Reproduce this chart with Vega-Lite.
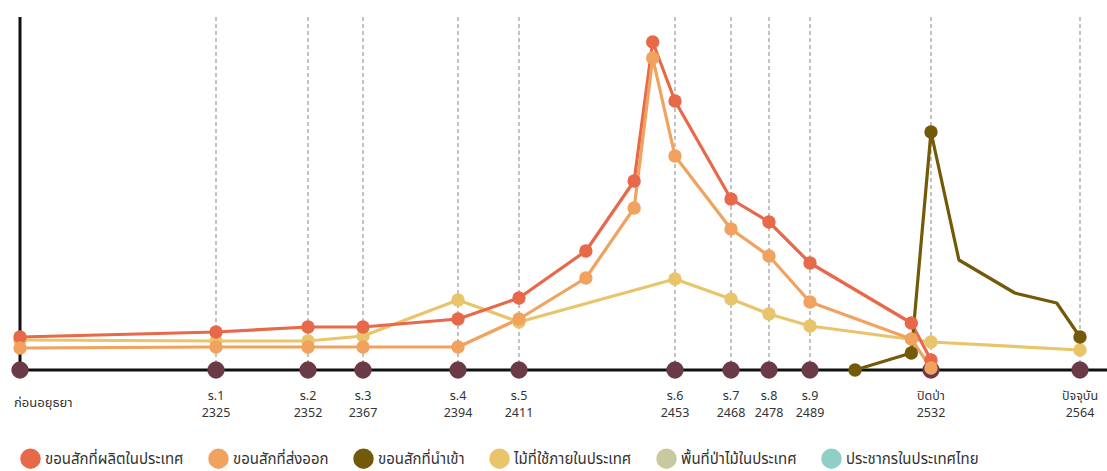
{
  "$schema": "https://vega.github.io/schema/vega-lite/v6.json",
  "autosize": "none",
  "width": 1087,
  "height": 353,
  "padding": {"left": 20, "top": 17, "right": 0, "bottom": 101},
  "background": "white",
  "config": {"view": {"stroke": null}, "font": "'Noto Sans Thai', 'Noto Sans', sans-serif"},
  "datasets": {
    "timeline": [
      {"year": 1800, "reign": "ก่อนอยุธยา", "yr": ""},
      {"year": 2325, "reign": "ร.1", "yr": "2325"},
      {"year": 2352, "reign": "ร.2", "yr": "2352"},
      {"year": 2367, "reign": "ร.3", "yr": "2367"},
      {"year": 2394, "reign": "ร.4", "yr": "2394"},
      {"year": 2411, "reign": "ร.5", "yr": "2411"},
      {"year": 2453, "reign": "ร.6", "yr": "2453"},
      {"year": 2468, "reign": "ร.7", "yr": "2468"},
      {"year": 2478, "reign": "ร.8", "yr": "2478"},
      {"year": 2489, "reign": "ร.9", "yr": "2489"},
      {"year": 2532, "reign": "ปิดป่า", "yr": "2532"},
      {"year": 2564, "reign": "ปัจจุบัน", "yr": "2564"}
    ],
    "series": [
      {"series": "ไม้ที่ใช้ภายในประเทศ", "year": 1800, "value": 30},
      {"series": "ไม้ที่ใช้ภายในประเทศ", "year": 2325, "value": 29},
      {"series": "ไม้ที่ใช้ภายในประเทศ", "year": 2352, "value": 29},
      {"series": "ไม้ที่ใช้ภายในประเทศ", "year": 2367, "value": 34},
      {"series": "ไม้ที่ใช้ภายในประเทศ", "year": 2394, "value": 70},
      {"series": "ไม้ที่ใช้ภายในประเทศ", "year": 2411, "value": 48},
      {"series": "ไม้ที่ใช้ภายในประเทศ", "year": 2453, "value": 91},
      {"series": "ไม้ที่ใช้ภายในประเทศ", "year": 2468, "value": 71},
      {"series": "ไม้ที่ใช้ภายในประเทศ", "year": 2478, "value": 56},
      {"series": "ไม้ที่ใช้ภายในประเทศ", "year": 2489, "value": 44},
      {"series": "ไม้ที่ใช้ภายในประเทศ", "year": 2532, "value": 28},
      {"series": "ไม้ที่ใช้ภายในประเทศ", "year": 2564, "value": 20},
      {"series": "ขอนสักที่ผลิตในประเทศ", "year": 1800, "value": 33},
      {"series": "ขอนสักที่ผลิตในประเทศ", "year": 2325, "value": 38},
      {"series": "ขอนสักที่ผลิตในประเทศ", "year": 2352, "value": 43},
      {"series": "ขอนสักที่ผลิตในประเทศ", "year": 2367, "value": 43},
      {"series": "ขอนสักที่ผลิตในประเทศ", "year": 2394, "value": 51},
      {"series": "ขอนสักที่ผลิตในประเทศ", "year": 2411, "value": 72},
      {"series": "ขอนสักที่ผลิตในประเทศ", "year": 2429, "value": 119},
      {"series": "ขอนสักที่ผลิตในประเทศ", "year": 2442, "value": 189},
      {"series": "ขอนสักที่ผลิตในประเทศ", "year": 2447, "value": 328},
      {"series": "ขอนสักที่ผลิตในประเทศ", "year": 2453, "value": 269},
      {"series": "ขอนสักที่ผลิตในประเทศ", "year": 2468, "value": 171},
      {"series": "ขอนสักที่ผลิตในประเทศ", "year": 2478, "value": 148},
      {"series": "ขอนสักที่ผลิตในประเทศ", "year": 2489, "value": 107},
      {"series": "ขอนสักที่ผลิตในประเทศ", "year": 2525, "value": 47},
      {"series": "ขอนสักที่ผลิตในประเทศ", "year": 2532, "value": 10},
      {"series": "ขอนสักที่ส่งออก", "year": 1800, "value": 22},
      {"series": "ขอนสักที่ส่งออก", "year": 2325, "value": 23},
      {"series": "ขอนสักที่ส่งออก", "year": 2352, "value": 23},
      {"series": "ขอนสักที่ส่งออก", "year": 2367, "value": 23},
      {"series": "ขอนสักที่ส่งออก", "year": 2394, "value": 23},
      {"series": "ขอนสักที่ส่งออก", "year": 2411, "value": 51},
      {"series": "ขอนสักที่ส่งออก", "year": 2429, "value": 92},
      {"series": "ขอนสักที่ส่งออก", "year": 2442, "value": 162},
      {"series": "ขอนสักที่ส่งออก", "year": 2447, "value": 312},
      {"series": "ขอนสักที่ส่งออก", "year": 2453, "value": 214},
      {"series": "ขอนสักที่ส่งออก", "year": 2468, "value": 141},
      {"series": "ขอนสักที่ส่งออก", "year": 2478, "value": 114},
      {"series": "ขอนสักที่ส่งออก", "year": 2489, "value": 68},
      {"series": "ขอนสักที่ส่งออก", "year": 2525, "value": 31},
      {"series": "ขอนสักที่ส่งออก", "year": 2532, "value": 2},
      {"series": "ขอนสักที่นำเข้า", "year": 2505, "value": 0},
      {"series": "ขอนสักที่นำเข้า", "year": 2525, "value": 17},
      {"series": "ขอนสักที่นำเข้า", "year": 2532, "value": 238},
      {"series": "ขอนสักที่นำเข้า", "year": 2538, "value": 110},
      {"series": "ขอนสักที่นำเข้า", "year": 2550, "value": 77},
      {"series": "ขอนสักที่นำเข้า", "year": 2559, "value": 67},
      {"series": "ขอนสักที่นำเข้า", "year": 2564, "value": 33}
    ]
  },
  "layer": [
    {
      "data": {"name": "timeline"},
      "transform": [{"filter": "datum.year > 1800"}],
      "mark": {"type": "rule", "color": "#9a9a9a", "strokeWidth": 1.2, "strokeDash": [4, 3]},
      "encoding": {
        "x": {"field": "year", "type": "quantitative", "axis": null,
              "scale": {"domain": [1800, 2325, 2352, 2367, 2394, 2411, 2453, 2468, 2478, 2489, 2532, 2564],
                        "range": [0, 196, 288, 343, 438, 499, 655, 711, 749, 790, 911, 1060], "nice": false, "zero": false}}
      }
    },
    {
      "data": {"values": [{"year": 1800}]},
      "mark": {"type": "rule", "color": "#111111", "strokeWidth": 3},
      "encoding": {"x": {"field": "year", "type": "quantitative"}}
    },
    {
      "data": {"values": [{"base": 0}]},
      "mark": {"type": "rule", "color": "#111111", "strokeWidth": 3},
      "encoding": {"y": {"field": "base", "type": "quantitative", "axis": null,
                         "scale": {"domain": [0, 353], "nice": false, "zero": true}}}
    },
    {
      "data": {"name": "timeline"},
      "mark": {"type": "point", "shape": "circle", "filled": true, "opacity": 1, "size": 300, "color": "#6B3A47"},
      "encoding": {
        "x": {"field": "year", "type": "quantitative"},
        "y": {"datum": 0, "type": "quantitative"}
      }
    },
    {
      "data": {"name": "series"},
      "mark": {"type": "line", "strokeWidth": 3.2, "strokeJoin": "round"},
      "encoding": {
        "x": {"field": "year", "type": "quantitative"},
        "y": {"field": "value", "type": "quantitative"},
        "color": {"field": "series", "type": "nominal",
                  "scale": {"domain": ["ขอนสักที่ผลิตในประเทศ", "ขอนสักที่ส่งออก", "ขอนสักที่นำเข้า", "ไม้ที่ใช้ภายในประเทศ", "พื้นที่ป่าไม้ในประเทศ", "ประชากรในประเทศไทย"],
                            "range": ["#E8684A", "#F0A25E", "#735A08", "#E8C46A", "#C9C9A0", "#8FCFC5"]},
                  "legend": {"orient": "none", "legendX": 0, "legendY": 431, "direction": "horizontal",
                             "title": null, "symbolType": "circle", "symbolSize": 420, "symbolStrokeWidth": 0,
                             "symbolOpacity": 1, "labelFontSize": 15, "labelColor": "#333333", "labelLimit": 300,
                             "columnPadding": 24, "labelOffset": 4, "columns": 6}},
        "order": {"field": "year"}
      }
    },
    {
      "data": {"name": "series"},
      "transform": [{"filter": "datum.series != 'ขอนสักที่นำเข้า' || datum.year == 2505 || datum.year == 2525 || datum.year == 2532 || datum.year == 2564"}],
      "mark": {"type": "point", "shape": "circle", "filled": true, "opacity": 1, "size": 180},
      "encoding": {
        "x": {"field": "year", "type": "quantitative"},
        "y": {"field": "value", "type": "quantitative"},
        "color": {"field": "series", "type": "nominal",
                  "legend": {"orient": "none", "legendX": 0, "legendY": 431, "direction": "horizontal",
                             "title": null, "symbolType": "circle", "symbolSize": 420, "symbolStrokeWidth": 0,
                             "symbolOpacity": 1, "labelFontSize": 15, "labelColor": "#333333", "labelLimit": 300,
                             "columnPadding": 24, "labelOffset": 4, "columns": 6}}
      }
    },
    {
      "data": {"name": "timeline"},
      "transform": [{"filter": "datum.year > 1800"}],
      "mark": {"type": "text", "baseline": "middle", "align": "center", "dy": 26, "fontSize": 12.5, "color": "#333333"},
      "encoding": {
        "x": {"field": "year", "type": "quantitative"},
        "y": {"datum": 0, "type": "quantitative"},
        "text": {"field": "reign"}
      }
    },
    {
      "data": {"name": "timeline"},
      "transform": [{"filter": "datum.year > 1800"}],
      "mark": {"type": "text", "baseline": "middle", "align": "center", "dy": 43, "fontSize": 12.5, "color": "#333333"},
      "encoding": {
        "x": {"field": "year", "type": "quantitative"},
        "y": {"datum": 0, "type": "quantitative"},
        "text": {"field": "yr"}
      }
    },
    {
      "data": {"name": "timeline"},
      "transform": [{"filter": "datum.year == 1800"}],
      "mark": {"type": "text", "baseline": "middle", "align": "left", "dx": -6, "dy": 33, "fontSize": 13, "color": "#333333"},
      "encoding": {
        "x": {"field": "year", "type": "quantitative"},
        "y": {"datum": 0, "type": "quantitative"},
        "text": {"field": "reign"}
      }
    }
  ]
}
